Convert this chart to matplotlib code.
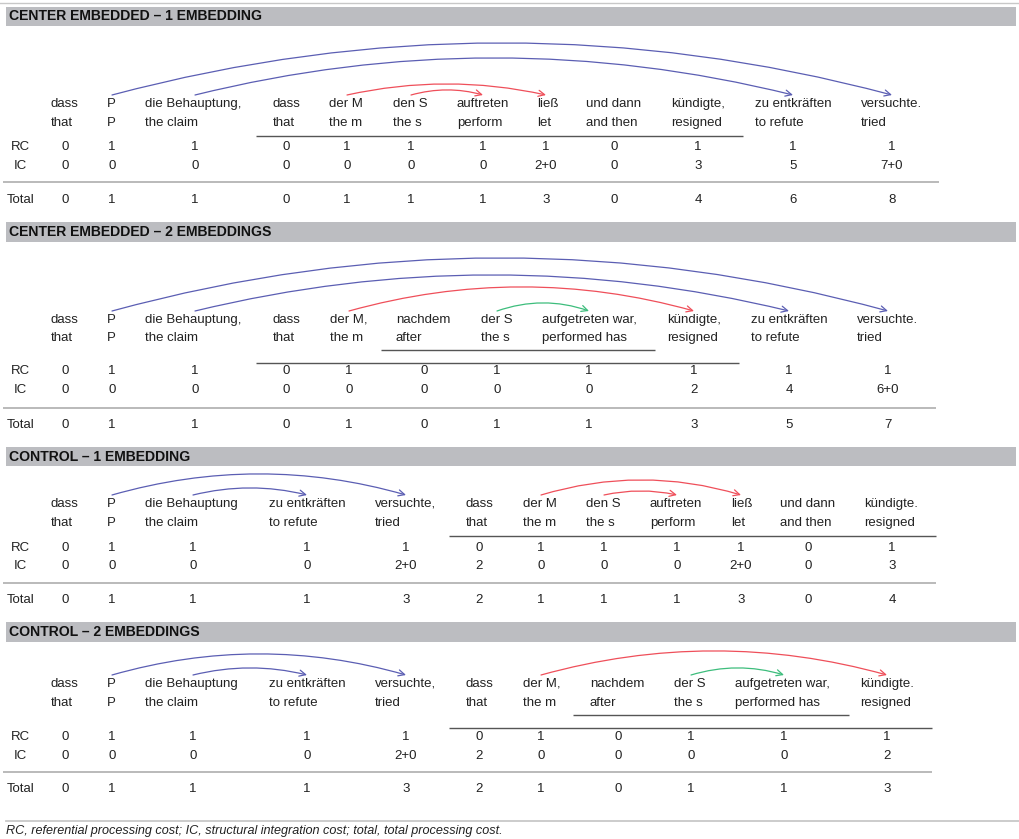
import matplotlib
matplotlib.use('Agg')

import matplotlib.pyplot as plt
from matplotlib.path import Path
from matplotlib.patches import FancyArrowPatch, Rectangle

plt.rcParams['font.family'] = ['Liberation Sans', 'DejaVu Sans']

# ---- data -------------------------------------------------------------
s1_title = 'CENTER EMBEDDED \u2013 1 EMBEDDING'
s1_de = ['dass', 'P', 'die Behauptung,', 'dass', 'der M', 'den S', 'auftreten',
         'ließ', 'und dann', 'kündigte,', 'zu entkräften', 'versuchte.']
s1_en = ['that', 'P', 'the claim', 'that', 'the m', 'the s', 'perform',
         'let', 'and then', 'resigned', 'to refute', 'tried']
s1_rc = ['0', '1', '1', '0', '1', '1', '1', '1', '0', '1', '1', '1']
s1_ic = ['0', '0', '0', '0', '0', '0', '0', '2+0', '0', '3', '5', '7+0']
s1_total = ['0', '1', '1', '0', '1', '1', '1', '3', '0', '4', '6', '8']
s1_arcs = [(1, 11, 'blue'), (2, 10, 'blue'), (4, 7, 'red'), (5, 6, 'red')]
s1_spans = [(3, 9)]

s2_title = 'CENTER EMBEDDED \u2013 2 EMBEDDINGS'
s2_de = ['dass', 'P', 'die Behauptung,', 'dass', 'der M,', 'nachdem', 'der S',
         'aufgetreten war,', 'kündigte,', 'zu entkräften', 'versuchte.']
s2_en = ['that', 'P', 'the claim', 'that', 'the m', 'after', 'the s',
         'performed has', 'resigned', 'to refute', 'tried']
s2_rc = ['0', '1', '1', '0', '1', '0', '1', '1', '1', '1', '1']
s2_ic = ['0', '0', '0', '0', '0', '0', '0', '0', '2', '4', '6+0']
s2_total = ['0', '1', '1', '0', '1', '0', '1', '1', '3', '5', '7']
s2_arcs = [(1, 10, 'blue'), (2, 9, 'blue'), (4, 8, 'red'), (6, 7, 'green')]
s2_spans = [(5, 7), (3, 8)]

s3_title = 'CONTROL \u2013 1 EMBEDDING'
s3_de = ['dass', 'P', 'die Behauptung', 'zu entkräften', 'versuchte,', 'dass',
         'der M', 'den S', 'auftreten', 'ließ', 'und dann', 'kündigte.']
s3_en = ['that', 'P', 'the claim', 'to refute', 'tried', 'that',
         'the m', 'the s', 'perform', 'let', 'and then', 'resigned']
s3_rc = ['0', '1', '1', '1', '1', '0', '1', '1', '1', '1', '0', '1']
s3_ic = ['0', '0', '0', '0', '2+0', '2', '0', '0', '0', '2+0', '0', '3']
s3_total = ['0', '1', '1', '1', '3', '2', '1', '1', '1', '3', '0', '4']
s3_arcs = [(1, 4, 'blue'), (2, 3, 'blue'), (6, 9, 'red'), (7, 8, 'red')]
s3_spans = [(5, 11)]

s4_title = 'CONTROL \u2013 2 EMBEDDINGS'
s4_de = ['dass', 'P', 'die Behauptung', 'zu entkräften', 'versuchte,', 'dass',
         'der M,', 'nachdem', 'der S', 'aufgetreten war,', 'kündigte.']
s4_en = ['that', 'P', 'the claim', 'to refute', 'tried', 'that',
         'the m', 'after', 'the s', 'performed has', 'resigned']
s4_rc = ['0', '1', '1', '1', '1', '0', '1', '0', '1', '1', '1']
s4_ic = ['0', '0', '0', '0', '2+0', '2', '0', '0', '0', '0', '2']
s4_total = ['0', '1', '1', '1', '3', '2', '1', '0', '1', '1', '3']
s4_arcs = [(1, 4, 'blue'), (2, 3, 'blue'), (6, 10, 'red'), (8, 9, 'green')]
s4_spans = [(7, 9), (5, 10)]

footnote = ('RC, referential processing cost; IC, structural integration cost; '
            'total, total processing cost.')

# ---- layout (pixels) -------------------------------------------------
s1_left = [51, 107, 145, 273, 329, 393, 457, 537, 586, 671, 755, 861]
s1_mid = [65, 112, 195, 286, 347, 411, 483, 546, 614, 698, 793, 892]
s1_heights = [52, 37, 11, 5]
s1_lines = [(136, 256, 743)]
s1_rows = dict(head=16, de=104, en=123, rc=147, ic=166, sep=182, tot=200,
               sep_end=939, bar=(7, 26))

s2_left = [51, 107, 145, 273, 330, 396, 481, 542, 667, 751, 857]
s2_mid = [65, 112, 195, 286, 349, 424, 497, 589, 694, 789, 888]
s2_heights = [53, 36, 24, 8]
s2_lines = [(350, 381, 655), (363, 256, 739)]
s2_rows = dict(head=232, de=320, en=338, rc=371, ic=390, sep=408, tot=425,
               sep_end=936, bar=(222, 242))

s3_left = [51, 107, 145, 269, 375, 466, 523, 586, 650, 731, 780, 864]
s3_mid = [65, 112, 193, 307, 406, 479, 541, 604, 677, 741, 808, 892]
s3_heights = [21, 7, 15, 4]
s3_lines = [(536, 449, 936)]
s3_rows = dict(head=457, de=504, en=523, rc=548, ic=566, sep=583, tot=600,
               sep_end=936, bar=(447, 466))

s4_left = [51, 107, 145, 269, 375, 466, 523, 590, 674, 735, 860]
s4_mid = [65, 112, 193, 307, 406, 479, 541, 618, 691, 784, 887]
s4_heights = [21, 7, 24, 7]
s4_lines = [(715, 573, 849), (728, 449, 932)]
s4_rows = dict(head=632, de=684, en=703, rc=737, ic=756, sep=772, tot=789,
               sep_end=932, bar=(622, 642))

arc_colors = {'blue': '#5b5eb3', 'red': '#ef4f5a', 'green': '#3dbd7c'}
txt = '#222222'
fs = 9.5


def draw_section(ax, title, de, en, rc, ic, total, arcs, left, mid, heights,
                 lines, rows):
    top, bot = rows['bar']
    ax.add_patch(Rectangle((6, top), 1010, bot - top, facecolor='#bcbdc1',
                           edgecolor='none'))
    ax.text(9, rows['head'], title, fontsize=10.1, fontweight='bold',
            color='#111111', va='center', ha='left')

    for i in range(len(de)):
        ax.text(left[i], rows['de'], de[i], fontsize=fs, color=txt,
                va='center', ha='left')
        ax.text(left[i], rows['en'], en[i], fontsize=fs, color=txt,
                va='center', ha='left')
        ax.text(mid[i], rows['rc'], rc[i], fontsize=fs, color=txt,
                va='center', ha='center')
        ax.text(mid[i], rows['ic'], ic[i], fontsize=fs, color=txt,
                va='center', ha='center')
        ax.text(mid[i], rows['tot'], total[i], fontsize=fs, color=txt,
                va='center', ha='center')

    ax.text(20, rows['rc'], 'RC', fontsize=fs, color=txt, va='center',
            ha='center')
    ax.text(20, rows['ic'], 'IC', fontsize=fs, color=txt, va='center',
            ha='center')
    ax.text(7, rows['tot'], 'Total', fontsize=fs, color=txt, va='center',
            ha='left')

    # embedded clause underlines
    for y, x0, x1 in lines:
        ax.plot([x0, x1], [y, y], color='#555555', lw=1.0,
                solid_capstyle='butt')
    ax.plot([3, rows['sep_end']], [rows['sep'], rows['sep']],
            color='#b4b4b4', lw=1.3, solid_capstyle='butt')

    # dependency arcs (quadratic curves between column centres)
    base = rows['de'] - 9
    for (a, b, c), h in zip(arcs, heights):
        xa, xb = mid[a], mid[b]
        ctrl = ((xa + xb) / 2.0, base - 2 * h)
        path = Path([(xa, base), ctrl, (xb, base)],
                    [Path.MOVETO, Path.CURVE3, Path.CURVE3])
        arr = FancyArrowPatch(path=path,
                              arrowstyle='->,head_length=0.45,head_width=0.22',
                              mutation_scale=10, color=arc_colors[c], lw=0.9)
        ax.add_patch(arr)


def main():
    fig = plt.figure(figsize=(10.2, 8.39), dpi=100)
    ax = fig.add_axes([0, 0, 1, 1])
    ax.set_xlim(0, 1020)
    ax.set_ylim(839, 0)
    ax.axis('off')

    ax.plot([0, 1020], [3, 3], color='#c8c8c8', lw=1.0)

    draw_section(ax, s1_title, s1_de, s1_en, s1_rc, s1_ic, s1_total, s1_arcs,
                 s1_left, s1_mid, s1_heights, s1_lines, s1_rows)
    draw_section(ax, s2_title, s2_de, s2_en, s2_rc, s2_ic, s2_total, s2_arcs,
                 s2_left, s2_mid, s2_heights, s2_lines, s2_rows)
    draw_section(ax, s3_title, s3_de, s3_en, s3_rc, s3_ic, s3_total, s3_arcs,
                 s3_left, s3_mid, s3_heights, s3_lines, s3_rows)
    draw_section(ax, s4_title, s4_de, s4_en, s4_rc, s4_ic, s4_total, s4_arcs,
                 s4_left, s4_mid, s4_heights, s4_lines, s4_rows)

    ax.plot([6, 1020], [821, 821], color='#c8c8c8', lw=1.3)
    ax.text(6, 831, footnote, fontsize=9.1, style='italic', color=txt,
            va='center', ha='left')

    fig.savefig('out.png', dpi=100)


if __name__ == '__main__':
    main()
